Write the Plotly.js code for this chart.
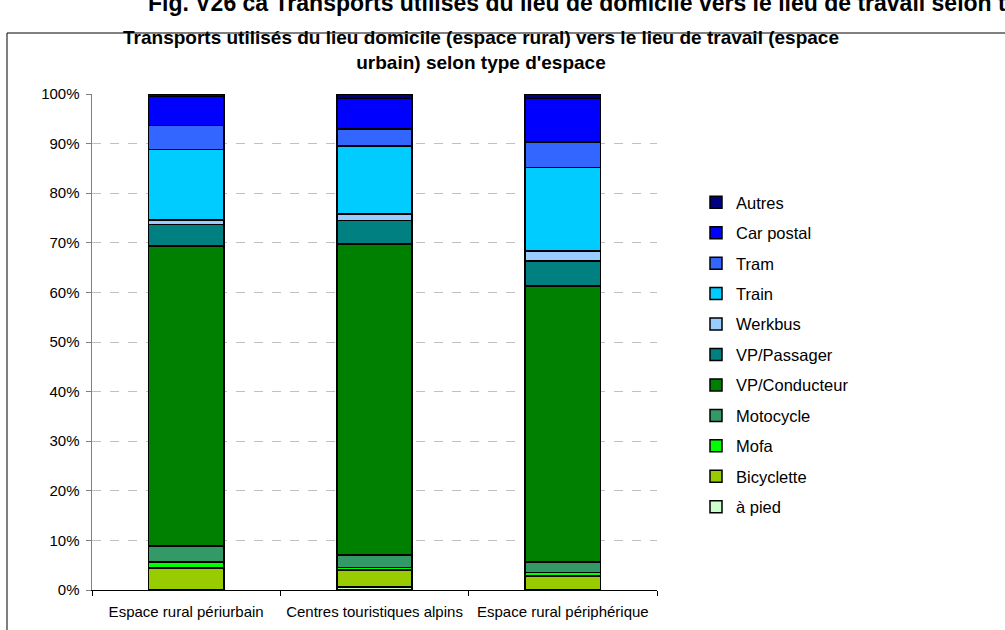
<!DOCTYPE html>
<html>
<head>
<meta charset="utf-8">
<script src="https://cdn.plot.ly/plotly-3.0.1.min.js"></script>
<style>html,body{margin:0;padding:0;background:#fff;}#chart{width:1005px;height:630px;}</style>
</head>
<body>
<div id="chart"></div>
<script>
// Categories (x axis)
const categories = ["Espace rural périurbain", "Centres touristiques alpins", "Espace rural périphérique"];

// Series values (% share), bottom to top of stack
const aPied        = [0.1, 0.6, 0.1];
const bicyclette   = [4.3, 3.4, 2.7];
const mofa         = [1.2, 0.5, 0.7];
const motocycle    = [3.3, 2.6, 2.1];
const vpConducteur = [60.5, 62.7, 55.7];
const vpPassager   = [4.3, 4.7, 5.0];
const werkbus      = [0.9, 1.3, 2.0];
const train        = [14.2, 13.7, 16.9];
const tram         = [4.8, 3.4, 5.1];
const carPostal    = [5.9, 6.2, 8.8];
const autres       = [0.5, 0.9, 0.9];

const seriesNames = ["à pied", "Bicyclette", "Mofa", "Motocycle", "VP/Conducteur", "VP/Passager", "Werkbus", "Train", "Tram", "Car postal", "Autres"];
const seriesValues = [aPied, bicyclette, mofa, motocycle, vpConducteur, vpPassager, werkbus, train, tram, carPostal, autres];
const seriesColors = ["#CCFFCC", "#99CC00", "#00FF00", "#339966", "#008000", "#008080", "#99CCFF", "#00CCFF", "#3366FF", "#0000FF", "#000080"];

const yTickVals = [0, 10, 20, 30, 40, 50, 60, 70, 80, 90, 100];

const FONT = "Arial, 'Liberation Sans', sans-serif";

const traces = seriesNames.map((name, i) => ({
  type: "bar",
  name: name,
  x: categories,
  y: seriesValues[i],
  legendgroup: "g" + i,
  legendrank: 1000 - i,
  marker: { color: seriesColors[i], line: { color: "#000000", width: 1.5 } },
  hoverinfo: "name+y"
}));

// pixel -> paper helpers (plot area: x 92..657, y 94..590)
const L = 92, R = 657, T = 94, B = 590;
const px = v => (v - L) / (R - L);
const py = v => (B - v) / (B - T);

const layout = {
  width: 1005,
  height: 630,
  margin: { l: L, r: 1005 - R, t: T, b: 630 - B, pad: 0 },
  paper_bgcolor: "#ffffff",
  plot_bgcolor: "#ffffff",
  font: { family: FONT, size: 15, color: "#000000" },
  barmode: "stack",
  bargap: 0.6,
  title: {
    text: "Transports utilisés du lieu domicile (espace rural) vers le lieu de travail (espace<br>urbain) selon type d'espace",
    font: { family: FONT, size: 19, color: "#000000", weight: "bold" },
    x: 481 / 1005,
    xanchor: "center",
    xref: "container",
    y: 1 - 44 / 630,
    yanchor: "middle",
    yref: "container"
  },
  xaxis: {
    type: "category",
    showline: true,
    linecolor: "#000000",
    linewidth: 1,
    ticks: "outside",
    tickson: "boundaries",
    ticklen: 5,
    tickcolor: "#000000",
    ticklabelstandoff: 8,
    tickfont: { family: FONT, size: 15, color: "#000000" },
    showgrid: false,
    zeroline: false,
    fixedrange: true
  },
  yaxis: {
    range: [0, 100],
    tickvals: yTickVals,
    ticktext: yTickVals.map(v => v + "%"),
    showline: true,
    linecolor: "#808080",
    linewidth: 1.5,
    ticks: "outside",
    ticklen: 5,
    tickcolor: "#808080",
    ticklabelstandoff: 3,
    tickfont: { family: FONT, size: 15, color: "#000000" },
    showgrid: true,
    gridcolor: "#c0c0c0",
    griddash: "dash",
    gridwidth: 1,
    zeroline: false,
    fixedrange: true
  },
  legend: {
    traceorder: "grouped",
    tracegroupgap: 6,
    x: px(696),
    xanchor: "left",
    y: py(185),
    yanchor: "top",
    font: { family: FONT, size: 16.5, color: "#000000" },
    bgcolor: "rgba(0,0,0,0)",
    itemclick: false,
    itemdoubleclick: false
  },
  shapes: [
    {
      type: "rect", xref: "paper", yref: "paper",
      x0: px(7), x1: px(1012), y0: py(645), y1: py(33),
      line: { color: "#000000", width: 1 },
      fillcolor: "rgba(0,0,0,0)",
      layer: "below"
    }
  ],
  annotations: [
    {
      text: "Fig. V26 ca Transports utilisés du lieu de domicile vers le lieu de travail selon type d'espace",
      xref: "paper", yref: "paper",
      x: px(146), xanchor: "left",
      y: py(3), yanchor: "middle",
      showarrow: false,
      font: { family: FONT, size: 23, color: "#000000", weight: "bold" }
    }
  ]
};

Plotly.newPlot("chart", traces, layout, { displayModeBar: false, staticPlot: true });
</script>
</body>
</html>
